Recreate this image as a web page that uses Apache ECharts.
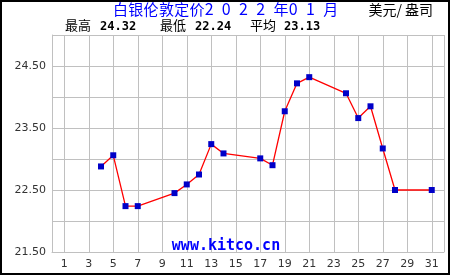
<!DOCTYPE html>
<html><head><meta charset="utf-8">
<script src="https://cdn.jsdelivr.net/npm/echarts@6/dist/echarts.min.js"></script>
<style>html,body{margin:0;padding:0;background:#fff}#c{width:450px;height:275px}</style>
</head><body><div id="c"></div>
<script>
var days = [4,5,6,7,10,11,12,13,14,17,18,19,20,21,24,25,26,27,28,31];
var prices = [22.88,23.06,22.24,22.24,22.45,22.59,22.75,23.24,23.09,23.01,22.90,23.77,24.22,24.32,24.06,23.66,23.85,23.17,22.50,22.50];
var yTickLabels = ['21.50','22.50','23.50','24.50'];
var titleText = '白银伦敦定价2 0 2 2 年0 1 月';
var unitText = '美元/ 盎司';
var statLabels = ['最高','最低','平均'];
var statValues = ['24.32','22.24','23.13'];

var cats = [];
for (var i = 0; i <= 32; i++) cats.push(String(i));
var seriesData = cats.map(function(){return null;});
days.forEach(function(d, k){ seriesData[d] = prices[k]; });

var font = 'DejaVu Sans';
var cjk = '"Noto Sans CJK SC", sans-serif';

// title layout: lay out characters with pixel-font-like cells (CJK full cell, ASCII half cell)
var titleGraphics = [];
(function(){
  var x = 113, full = 15.3, half = 8.6;
  var chars = titleText.split('');
  chars.forEach(function(ch){
    var isAscii = ch.charCodeAt(0) < 128;
    var w = isAscii ? half : full;
    if (ch !== ' ') {
      titleGraphics.push({type:'text', x: isAscii ? x + w/2 : x, y: isAscii ? 1 : 2,
        style:{text:ch, fill:'#0000ff', font:(isAscii ? '16px ' : '15px ') + cjk,
          align: isAscii ? 'center' : 'left', verticalAlign:'top'}});
    }
    x += w;
  });
})();

var chart = echarts.init(document.getElementById('c'), null, {renderer:'canvas'});
chart.setOption({
  animation:false,
  backgroundColor:'#fff',
  grid:{left:52, top:35, right:6, bottom:23, show:false},
  xAxis:{
    type:'category', data:cats, boundaryGap:false,
    axisLine:{show:true, lineStyle:{color:'#c0c0c0', width:1}},
    axisTick:{show:false},
    axisLabel:{color:'#333', fontFamily:font, fontSize:11, margin:7,
      interval:function(idx){return idx % 2 === 1;}},
    splitLine:{show:true, interval:function(idx){return idx % 2 === 1 || idx === 32;}, lineStyle:{color:'#c0c0c0', width:1}}
  },
  yAxis:{
    type:'value', min:21.5, max:25, interval:0.5,
    axisLine:{show:true, lineStyle:{color:'#c0c0c0', width:1}},
    axisTick:{show:false},
    axisLabel:{color:'#333', fontFamily:font, fontSize:11, margin:6,
      formatter:function(v){var s=v.toFixed(2); return yTickLabels.indexOf(s)>=0 ? s : '';}},
    splitLine:{show:true, lineStyle:{color:'#c0c0c0', width:1}}
  },
  series:[{
    type:'line', data:seriesData, connectNulls:true,
    lineStyle:{color:'#ff0000', width:1.3},
    symbol:'rect', symbolSize:6,
    itemStyle:{color:'#0000c8', borderWidth:0},
    z:3
  }],
  graphic:[
    {type:'rect', shape:{x:1,y:1,width:448,height:273}, style:{fill:null, stroke:'#000', lineWidth:2}, z:100},
    {type:'text', x:433, y:3, style:{text:unitText, fill:'#000', font:'14px '+cjk, align:'right', verticalAlign:'top'}},
    {type:'text', x:65, y:19, style:{text:statLabels[0], fill:'#000', font:'13px '+cjk, verticalAlign:'top'}},
    {type:'text', x:100, y:21, style:{text:statValues[0], fill:'#000', font:'bold 12px "DejaVu Sans Mono", monospace', verticalAlign:'top'}},
    {type:'text', x:160, y:19, style:{text:statLabels[1], fill:'#000', font:'13px '+cjk, verticalAlign:'top'}},
    {type:'text', x:195, y:21, style:{text:statValues[1], fill:'#000', font:'bold 12px "DejaVu Sans Mono", monospace', verticalAlign:'top'}},
    {type:'text', x:250, y:19, style:{text:statLabels[2], fill:'#000', font:'13px '+cjk, verticalAlign:'top'}},
    {type:'text', x:284, y:21, style:{text:statValues[2], fill:'#000', font:'bold 12px "DejaVu Sans Mono", monospace', verticalAlign:'top'}},
    {type:'text', x:226, y:246, style:{text:'www.kitco.cn', fill:'#0000ff', font:'bold 15px "DejaVu Sans Mono", monospace', align:'center', verticalAlign:'middle'}, z:1}
  ].concat(titleGraphics)
});
</script></body></html>
